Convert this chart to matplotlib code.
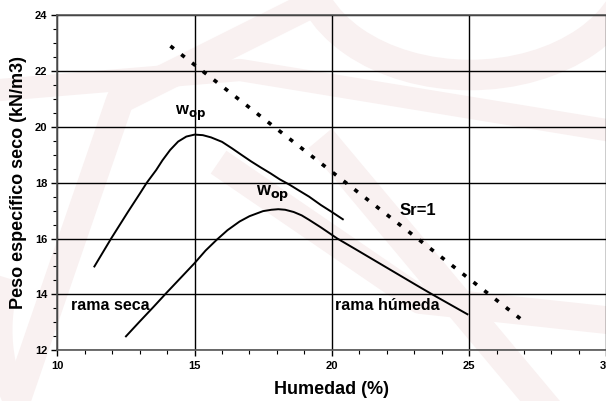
import numpy as np
import matplotlib
matplotlib.use("Agg")
import matplotlib.pyplot as plt
from matplotlib.ticker import MultipleLocator
from matplotlib.patches import Arc

plt.rcParams["font.family"] = ["Liberation Sans", "DejaVu Sans"]
plt.rcParams["font.weight"] = "bold"

# curva superior (mayor energia)
upper_x = [11.35, 11.96, 12.57, 13.0, 13.26, 13.6, 13.83, 14.11, 14.4, 14.7, 15.0, 15.3, 15.6, 16.0, 16.36,
           16.7, 17.06, 17.4, 17.77, 18.1, 18.47, 18.8, 19.17, 19.6, 20.0, 20.4]
upper_y = [15.0, 16.0, 16.95, 17.6, 18.0, 18.45, 18.8, 19.17, 19.47, 19.65, 19.72, 19.7, 19.62, 19.46, 19.23,
           19.0, 18.76, 18.55, 18.33, 18.12, 17.92, 17.72, 17.5, 17.2, 16.95, 16.69]

# curva inferior
lower_x = [12.5, 13.0, 13.5, 13.97, 14.5, 15.0, 15.4, 15.8, 16.2, 16.64, 17.0, 17.49, 17.8, 18.05, 18.3,
           18.61, 18.9, 19.17, 19.6, 20.2, 20.86, 21.98, 23.1, 23.66, 24.94]
lower_y = [12.5, 13.03, 13.55, 14.05, 14.6, 15.12, 15.57, 15.95, 16.3, 16.61, 16.8, 16.98, 17.03, 17.05, 17.03,
           16.95, 16.83, 16.67, 16.4, 16.0, 15.62, 14.97, 14.32, 14.0, 13.29]

# linea de saturacion Sr=1
sat_x = [14.12, 27.0]
sat_y = [22.89, 13.03]

fig = plt.figure(figsize=(6.06, 4.01), dpi=100)

# marca de agua rosa muy tenue
wm = "#f9f1f1"
bg = fig.add_axes([0, 0, 1, 1], zorder=-1)
bg.set_xlim(0, 606)
bg.set_ylim(401, 0)
bg.axis("off")
bg.add_patch(Arc((470, -40), 330, 230, theta1=0, theta2=180, lw=22, color=wm))
bg.plot([10, 120, 320], [420, 100, 0], lw=20, color=wm, solid_capstyle="butt")
bg.plot([330, 540], [150, 401], lw=22, color=wm)
bg.plot([230, 420, 606], [170, 300, 320], lw=20, color=wm)
bg.add_patch(Arc((150, 330), 300, 320, theta1=100, theta2=200, lw=18, color=wm))
bg.plot([0, 240, 606], [90, 70, 130], lw=16, color=wm)

ax = fig.add_axes([0.0946, 0.1264, 0.906, 0.8362])
ax.patch.set_alpha(0)

ax.plot(upper_x, upper_y, color="black", lw=1.4)
ax.plot(lower_x, lower_y, color="black", lw=1.4)
ax.plot(sat_x, sat_y, color="black", lw=2.6, linestyle=(0, (1.2, 2.6)))

ax.set_xlim(10, 30)
ax.set_ylim(12, 24)
ax.xaxis.set_major_locator(MultipleLocator(5))
ax.xaxis.set_minor_locator(MultipleLocator(1))
ax.yaxis.set_major_locator(MultipleLocator(2))
ax.yaxis.set_minor_locator(MultipleLocator(0.5))
ax.grid(True, which="major", color="black", lw=1.0)
ax.tick_params(which="major", direction="out", length=4, width=1, labelsize=8, pad=4)
ax.tick_params(axis="y", which="major", pad=3)
ax.tick_params(which="minor", direction="out", length=3, width=0.8)
for lab in ax.get_xticklabels() + ax.get_yticklabels():
    lab.set_fontweight("bold")

for side in ["left", "bottom", "top"]:
    ax.spines[side].set_color("#555555")
    ax.spines[side].set_linewidth(1.2)
ax.spines["right"].set_visible(False)

ax.set_xlabel("Humedad (%)", fontsize=13, fontweight="bold", labelpad=7)
ax.set_ylabel("Peso específico seco (kN/m3)", fontsize=13, fontweight="bold", labelpad=6)

ax.text(14.3, 20.15, "w$_{\\mathbf{op}}$", fontsize=12, fontweight="bold", ha="left", va="bottom")
ax.text(17.25, 17.25, "w$_{\\mathbf{op}}$", fontsize=13, fontweight="bold", ha="left", va="bottom")
ax.text(22.45, 17.0, "Sr=1", fontsize=12, fontweight="bold", ha="left", va="center")
ax.text(10.5, 13.6, "rama seca", fontsize=11.5, fontweight="bold", ha="left", va="center")
ax.text(20.1, 13.6, "rama húmeda", fontsize=11.5, fontweight="bold", ha="left", va="center")

fig.savefig("out.png", dpi=100)
